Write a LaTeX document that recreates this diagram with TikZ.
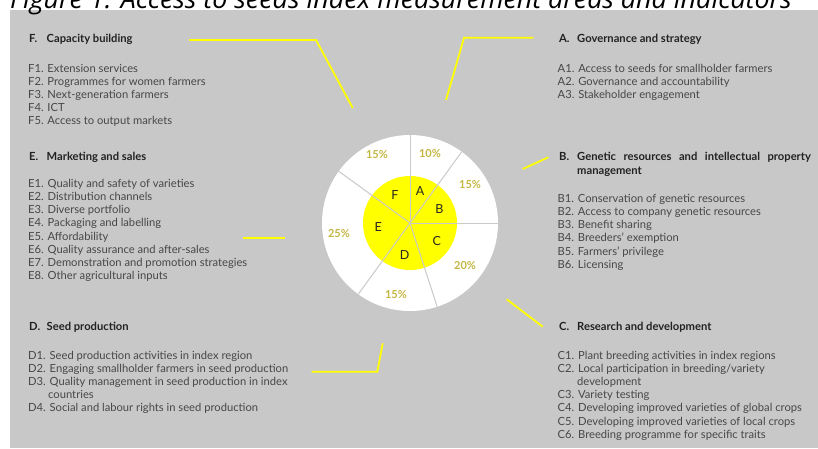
\documentclass[tikz,border=0pt]{standalone}
\usepackage{fontspec}
\setmainfont{Lato}
\newfontfamily\titlefont{Open Sans}
\definecolor{bggrey}{HTML}{C8C8C8}
\definecolor{itemc}{HTML}{474747}
\definecolor{headc}{HTML}{222222}
\definecolor{pctc}{HTML}{C3B642}
\definecolor{segc}{HTML}{262626}
\definecolor{divc}{HTML}{CACACA}
\definecolor{yellowc}{HTML}{FFFF00}
\begin{document}
\begin{tikzpicture}[x=1pt,y=-1pt,
  item/.style={anchor=base west, inner sep=0pt, text=itemc, font=\fontsize{11.2}{13}\selectfont},
  head/.style={anchor=base west, inner sep=0pt, text=headc, font=\bfseries\fontsize{11.2}{13}\selectfont},
  leader/.style={draw=yellowc, line width=1.8pt},
  divider/.style={draw=divc, line width=1pt},
  pct/.style={text=pctc, font=\bfseries\fontsize{11}{12}\selectfont, inner sep=0pt},
  seg/.style={text=segc, font=\fontsize{12.5}{13}\selectfont, inner sep=0pt}]
\useasboundingbox (0,0) rectangle (818,448);
\fill[bggrey] (10,10) rectangle (818,448);
\node[anchor=base west, inner sep=0pt, font=\titlefont\itshape\fontsize{26.8}{28}\selectfont] (title) at (10,8) {Figure 1: Access to seeds index measurement areas and indicators};

% pie
\coordinate (pc) at (410,223);
\fill[white] (pc) circle[radius=88pt];
\fill[yellowc] (pc) circle[radius=47pt];
\foreach \a in {90,54,0,-72,-126,144} \draw[divider] (pc) -- ++(\a:88pt);

\node[seg] (sA) at (420,190.7) {A};
\node[seg] (sB) at (439.3,209.3) {B};
\node[seg] (sC) at (436.7,241.3) {C};
\node[seg] (sD) at (404.7,254.7) {D};
\node[seg] (sE) at (378.3,226.7) {E};
\node[seg] (sF) at (395,195.3) {F};

\node[pct] (pA) at (430,154) {10\%};
\node[pct] (pB) at (470,185) {15\%};
\node[pct] (pC) at (465,266) {20\%};
\node[pct] (pD) at (396,295) {15\%};
\node[pct] (pE) at (339,234) {25\%};
\node[pct] (pF) at (377,155) {15\%};

% leaders
\coordinate (lF1) at (189,40); \coordinate (lF2) at (316,40); \coordinate (lF3) at (352.7,108);
\draw[leader] (lF1) -- (lF2) -- (lF3);
\coordinate (lA1) at (533.3,37.7); \coordinate (lA2) at (464,37.7); \coordinate (lA3) at (446,100);
\draw[leader] (lA1) -- (lA2) -- (lA3);
\coordinate (lE1) at (242.7,237.7); \coordinate (lE2) at (285,237.7);
\draw[leader] (lE1) -- (lE2);
\coordinate (lB1) at (522.7,169); \coordinate (lB2) at (548.3,157.3);
\draw[leader] (lB1) -- (lB2);
\coordinate (lC1) at (506.7,299.3); \coordinate (lC2) at (542.7,326.7);
\draw[leader] (lC1) -- (lC2);
\coordinate (lD1) at (311.7,371.7); \coordinate (lD2) at (377.3,371.7); \coordinate (lD3) at (382.7,343.3);
\draw[leader] (lD1) -- (lD2) -- (lD3);

% headings
\node[head] (hFl) at (29,42) {F.};
\node[head] (hF) at (46.5,42) {Capacity building};
\node[head] (hEl) at (29,160.7) {E.};
\node[head] (hE) at (46.5,160.7) {Marketing and sales};
\node[head] (hDl) at (29,330.7) {D.};
\node[head] (hD) at (46.5,330.7) {Seed production};
\node[head] (hAl) at (559,42) {A.};
\node[head] (hA) at (577,42) {Governance and strategy};
\node[head] (hBl) at (559,160.7) {B.};
\node[head] (hB) at (577,160.7) {\makebox[233.7pt][s]{Genetic resources and intellectual property}};
\node[head] (hB2) at (577,174) {management};
\node[head] (hCl) at (559,330.7) {C.};
\node[head] (hC) at (577,330.7) {Research and development};

% items
\foreach \txt [count=\i] in {F1. Extension services, F2. Programmes for women farmers, F3. Next-generation farmers, F4. ICT, F5. Access to output markets}
  \node[item, name=iF\i] at (28,{72+13.2*(\i-1)}) {\txt};
\foreach \txt [count=\i] in {E1. Quality and safety of varieties, E2. Distribution channels, E3. Diverse portfolio, E4. Packaging and labelling, E5. Affordability, E6. Quality assurance and after-sales, E7. Demonstration and promotion strategies, E8. Other agricultural inputs}
  \node[item, name=iE\i] at (28,{187.3+13.2*(\i-1)}) {\txt};
\foreach \txt [count=\i] in {D1. Seed production activities in index region, D2. Engaging smallholder farmers in seed production, D3. Quality management in seed production in index, \hspace*{20pt}countries, D4. Social and labour rights in seed production}
  \node[item, name=iD\i] at (28,{359+13.2*(\i-1)}) {\txt};
\foreach \txt [count=\i] in {A1. Access to seeds for smallholder farmers, A2. Governance and accountability, A3. Stakeholder engagement}
  \node[item, name=iA\i] at (557.5,{72.5+13.2*(\i-1)}) {\txt};
\foreach \txt [count=\i] in {B1. Conservation of genetic resources, B2. Access to company genetic resources, B3. Benefit sharing, B4. Breeders’ exemption, B5. Farmers’ privilege, B6. Licensing}
  \node[item, name=iB\i] at (557.5,{202.3+13.2*(\i-1)}) {\txt};
\foreach \txt [count=\i] in {C1. Plant breeding activities in index regions, C2. Local participation in breeding/variety, \hspace*{19.5pt}development, C3. Variety testing, C4. Developing improved varieties of global crops, C5. Developing improved varieties of local crops, C6. Breeding programme for specific traits}
  \node[item, name=iC\i] at (557.5,{359+13.2*(\i-1)}) {\txt};
\end{tikzpicture}
\end{document}
